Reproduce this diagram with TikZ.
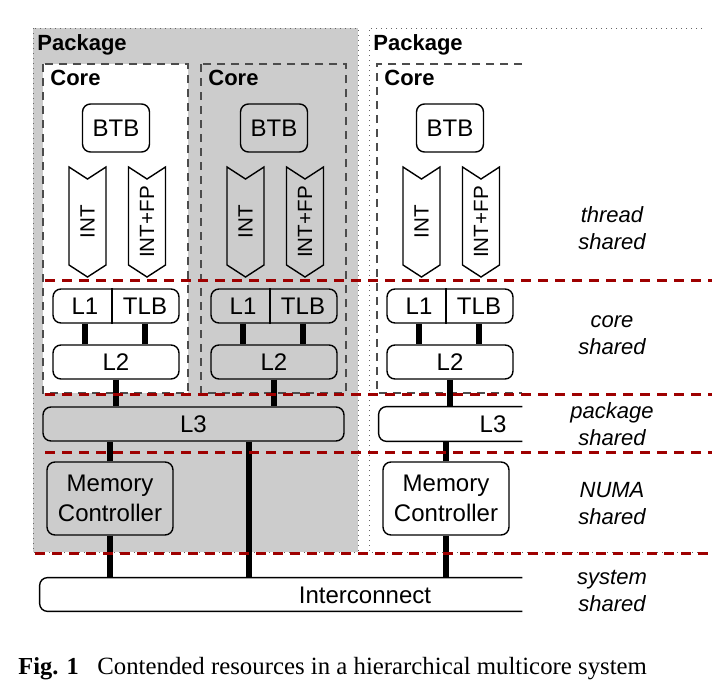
\documentclass[tikz,border=0pt]{standalone}
\usepackage{fontspec}
\setmainfont{Liberation Serif}
\setsansfont{Liberation Sans}
\usetikzlibrary{positioning}
\usetikzlibrary{shapes.symbols}
\definecolor{pkggray}{RGB}{204,204,204}
\definecolor{sharered}{RGB}{158,0,0}
\tikzset{unit box/.style={draw,
                          rounded corners=4pt,
                          line width=0.7pt,
                          inner sep=0pt,
                          align=center,
                          font=\sffamily\fontsize{12}{15}\selectfont}}
\tikzset{unit text/.style={inner sep=0pt,font=\sffamily\fontsize{12}{15}\selectfont}}
\tikzset{pipe/.style={draw,
                      shape=signal,
                      signal from=east,
                      signal to=west,
                      signal pointer angle=114,
                      rotate=90,
                      minimum width=55pt,
                      minimum height=18.5pt,
                      inner sep=0pt,
                      line width=0.7pt,
                      font=\sffamily\fontsize{10.3}{12}\selectfont}}
\tikzset{bus/.style={draw,line width=3pt}}
\tikzset{level line/.style={draw=sharered,line width=1.5pt,dash pattern=on 5pt off 3.5pt}}
\tikzset{level label/.style={align=center,font=\sffamily\itshape\fontsize{11}{13.5}\selectfont}}
\tikzset{core frame/.style={draw=black!70,line width=0.6pt,dash pattern=on 4pt off 3pt}}
\tikzset{package frame/.style={draw=black!60,line width=0.5pt,dotted}}
\tikzset{frame title/.style={anchor=west,inner sep=0pt,font=\sffamily\bfseries\fontsize{11}{13}\selectfont}}

\begin{document}
\begin{tikzpicture}[x=0.5pt,y=-0.5pt]
  \useasboundingbox (0,0) rectangle (712,696);

  % packages
  \fill [pkggray] (33,28) rectangle (358,552);
  \draw [package frame] (33,28) rectangle (358,552);
  \draw [package frame] (702,28) -- (369,28) -- (369,552) -- (702,552);
  \node [frame title] (pkgA) at (37,45) {Package};
  \node [frame title] (pkgB) at (373,45) {Package};

  % cores
  \filldraw [core frame,fill=white] (43,64) rectangle (188,393);
  \draw [core frame] (201,64) rectangle (346,393);
  \draw [core frame] (522,64) -- (377,64) -- (377,393) -- (522,393);

  \foreach \c/\dx/\col in {a/0/white,b/158/pkggray,c/334/white}
  {
    \node [frame title] (core\c) at (50+\dx,78) {Core};
    \node [unit box,fill=\col,minimum width=33.5pt,minimum height=24pt] (btb\c) at (116+\dx,128) {BTB};
    \node [pipe,fill=\col] (int\c) at (87.5+\dx,222) {INT};
    \node [pipe,fill=\col] (fp\c) at (147+\dx,222) {INT+FP};
    \node [unit box,fill=\col,minimum width=63pt,minimum height=17pt] (l1box\c) at (116+\dx,306) {};
    \draw [line width=0.7pt] ([xshift=-2pt]l1box\c.north) -- ([xshift=-2pt]l1box\c.south);
    \node [unit text] (l1\c) at (85+\dx,306) {L1};
    \node [unit text] (tlb\c) at (145+\dx,306) {TLB};
    \node [unit box,fill=\col,minimum width=63pt,minimum height=17pt] (l2\c) at (116+\dx,362) {L2};
    \draw [bus] (l1\c |- l1box\c.south) -- (l1\c |- l2\c.north);
    \draw [bus] (tlb\c |- l1box\c.south) -- (tlb\c |- l2\c.north);
  }

  % shared caches
  \node [unit box,fill=pkggray,minimum width=150.5pt,minimum height=17pt] (l3a) at (193.5,424) {L3};
  \node [minimum width=71.5pt,minimum height=17pt,inner sep=0pt] (l3c) at (450.5,424) {};
  \filldraw [line width=0.7pt,fill=white,rounded corners=4pt]
    (l3c.north east) -- (l3c.north west) -- (l3c.south west) -- (l3c.south east);
  \node [unit text] (l3ctext) at (493,424) {L3};

  % memory controllers
  \node [unit box,fill=pkggray,minimum width=63pt,minimum height=36.5pt] (mca) at (110,498.5) {Memory\\Controller};
  \node [unit box,fill=white,minimum width=63pt,minimum height=36.5pt] (mcc) at (446,498.5) {Memory\\Controller};

  % interconnect
  \node [minimum width=241pt,minimum height=16.5pt,inner sep=0pt] (ic) at (281,594.5) {};
  \filldraw [line width=0.7pt,fill=white,rounded corners=4pt]
    (ic.north east) -- (ic.north west) -- (ic.south west) -- (ic.south east);
  \node [unit text] (ictext) at (365,595) {Interconnect};

  % links
  \draw [bus] (l2a.south) -- (l2a.south |- l3a.north);
  \draw [bus] (l2b.south) -- (l2b.south |- l3a.north);
  \draw [bus] (l2c.south) -- (l2c.south |- l3c.north);
  \draw [bus] (mca.north) -- (mca.north |- l3a.south);
  \draw [bus] (mcc.north) -- (mcc.north |- l3c.south);
  \draw [bus] ([xshift=27.75pt]l3a.south) -- ([xshift=27.75pt]l3a.south |- ic.north);
  \draw [bus] (mca.south) -- (mca.south |- ic.north);
  \draw [bus] (mcc.south) -- (mcc.south |- ic.north);

  % sharing levels
  \foreach \y/\xs in {280/45,394/45,452/45,553/35}
    \draw [level line] (\xs,\y) -- (712,\y);

  \node [level label] (thread) at (612,228) {thread\\shared};
  \node [level label] (core) at (612,335) {core\\shared};
  \node [level label] (package) at (612,424) {package\\shared};
  \node [level label] (numa) at (612,504) {NUMA\\shared};
  \node [level label] (system) at (612,591) {system\\shared};

  % caption
  \node [anchor=base west,inner sep=0pt,font=\bfseries\fontsize{12.2}{14}\selectfont] (fig) at (18,674) {Fig. 1};
  \node [anchor=base west,inner sep=0pt,font=\fontsize{12.4}{14}\selectfont] (caption) at (97,674)
    {Contended resources in a hierarchical multicore system};
\end{tikzpicture}
\end{document}
